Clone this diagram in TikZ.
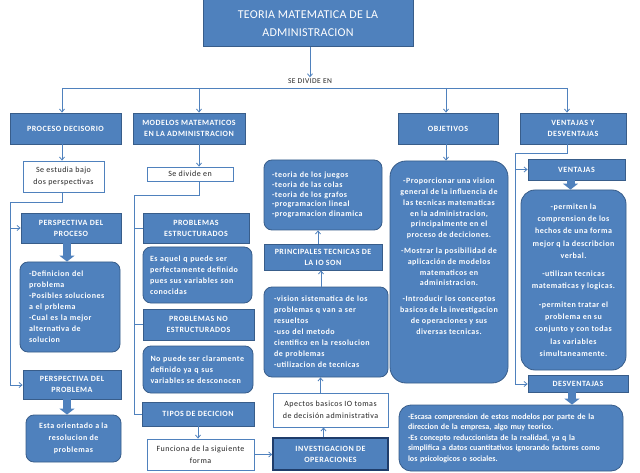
\documentclass[tikz,border=0pt]{standalone}
\usepackage{fontspec}
\setmainfont{Carlito}[LetterSpace=6]
\newfontfamily\tightf{Carlito}[LetterSpace=2]
\newfontfamily\plainf{Carlito}
\usetikzlibrary{arrows.meta}
\definecolor{bfill}{HTML}{4F81BD}
\definecolor{bborder}{HTML}{385D8A}
\definecolor{bdark}{HTML}{1F3D6B}
\definecolor{ink}{HTML}{262626}
\newcommand\hdrf{\fontsize{8}{11}\selectfont\bfseries}
\newcommand\wf{\fontsize{8}{11.5}\selectfont}
\newcommand\bdyf{\fontsize{8}{11}\selectfont\bfseries}
\tikzset{
  hbox/.style={draw=bborder, line width=0.8pt, fill=bfill, text=white, inner sep=1pt, align=center, font=\hdrf},
  rbox/.style={draw=bborder, line width=0.8pt, fill=bfill, text=white, inner sep=1pt, rounded corners=8pt, font=\bdyf},
  wbox/.style={draw=bfill, line width=0.8pt, fill=white, text=ink, inner sep=1pt, align=center, font=\wf},
  conn/.style={draw=bfill, line width=0.8pt},
  arr/.style={conn, -{Straight Barb[length=3pt,width=5pt]}},
  blk/.style={draw=bfill, line width=8pt, -{Triangle[length=6pt,width=15pt]}},
}
\begin{document}
\begin{tikzpicture}[x=1pt,y=-1pt]
\useasboundingbox[fill=white] (0,0) rectangle (640,473);

% title
\node[hbox, line width=1pt, minimum width=210, minimum height=47, font=\tightf\fontsize{12}{17.7}\selectfont] (title) at (308,23.5) {TEORIA MATEMATICA DE LA\\ADMINISTRACION};
\node[inner sep=1pt, text=ink, font=\fontsize{7.5}{8}\selectfont] (sde) at (310,81) {SE DIVIDE EN};

% first row
\node[hbox, minimum width=111, minimum height=31] (proc) at (65.5,128.5) {PROCESO DECISORIO};
\node[hbox, minimum width=112, minimum height=31] (mod) at (189,128.5) {MODELOS MATEMATICOS\\EN LA ADMINISTRACION};
\node[hbox, minimum width=100, minimum height=31] (obj) at (448,128.5) {OBJETIVOS};
\node[hbox, minimum width=106, minimum height=31] (vent) at (573,128.5) {VENTAJAS Y\\DESVENTAJAS};

% bar
\coordinate (b1) at (62,88);
\coordinate (b2) at (199,88);
\coordinate (b3) at (446,88);
\coordinate (b4) at (567,88);
\draw[arr] (title.south -| sde) -- (sde.north);
\draw[conn] (b1) -- (b4);
\draw[arr] (b1) -- (b1 |- proc.north);
\draw[arr] (b2) -- (b2 |- mod.north);
\draw[arr] (b3) -- (b3 |- obj.north);
\draw[arr] (b4) -- (b4 |- vent.north);

% left column
\node[wbox, minimum width=81, minimum height=31] (estudia) at (63.5,176.5) {Se estudia bajo\\dos perspectivas};
\node[hbox, minimum width=100, minimum height=30] (pproc) at (71,228) {PERSPECTIVA DEL\\PROCESO};
\node[rbox, minimum width=100, minimum height=90, text width=82, align=left] (def) at (70,307) {-Definicion del\\problema\\-Posibles soluciones\\a el prblema\\-Cual es la mejor\\alternativa de\\solucion};
\node[hbox, minimum width=98, minimum height=29] (pprob) at (72,384.5) {PERSPECTIVA DEL\\PROBLEMA};
\node[rbox, minimum width=95, minimum height=47, align=center, font=\fontsize{8}{12}\selectfont\bfseries] (orient) at (73.5,438.5) {Esta orientado a la\\resolucion de\\problemas};
\coordinate (lt) at (10,202);
\coordinate (lb) at (10,385);
\draw[arr] (b1 |- proc.south) -- (b1 |- estudia.north);
\draw[conn] (b1 |- estudia.south) |- (lt) -- (lb);
\draw[arr] (lt |- pproc) -- (pproc.west);
\draw[arr] (lb) -- (lb -| pprob.west);
\draw[blk] ([xshift=-4pt]pproc.south) -- ([xshift=-4pt]pproc.south |- def.north);
\draw[blk] ([xshift=-5pt]pprob.south) -- ([xshift=-5pt]pprob.south |- orient.north);

% middle column
\node[wbox, minimum width=86, minimum height=14] (divide) at (190,174) {Se divide en};
\node[hbox, minimum width=106, minimum height=30] (pe) at (196,228) {PROBLEMAS\\ESTRUCTURADOS};
\node[rbox, minimum width=109, minimum height=56, text width=95, align=left] (esaquel) at (197.5,275) {Es aquel q puede ser\\perfectamente definido\\pues sus variables son\\conocidas};
\node[hbox, minimum width=111, minimum height=31] (pne) at (198.5,324.5) {PROBLEMAS NO\\ESTRUCTURADOS};
\node[rbox, minimum width=110, minimum height=47, text width=95, align=left] (nopuede) at (198,369.5) {No puede ser claramente\\definido ya q sus\\variables se desconocen};
\node[hbox, minimum width=112, minimum height=24] (tipos) at (198,414) {TIPOS DE DECICION};
\node[wbox, minimum width=107, minimum height=31] (funciona) at (200.5,454.5) {Funciona de la siguiente\\forma};
\coordinate (mt) at (134,195);
\coordinate (mb) at (134,414);
\draw[arr] (b2 |- mod.south) -- (b2 |- divide.north);
\draw[conn] (b2 |- divide.south) |- (mt) -- (mb) -- (tipos.west);
\draw[conn] (mt |- pe) -- (pe.west);
\draw[conn] (mt |- pne) -- (pne.west);
\draw[arr] (tipos.south) -- (tipos.south |- funciona.north);

% third column
\node[hbox, line width=1.6pt, draw=bdark, minimum width=115, minimum height=32] (inv) at (330.5,454) {INVESTIGACION DE\\OPERACIONES};
\node[wbox, minimum width=115, minimum height=34] (apectos) at (330.5,410) {Apectos basicos IO tomas\\de decisión administrativa};
\node[rbox, minimum width=124, minimum height=90, text width=104, align=left] (vision) at (326,332) {-vision sistematica de los\\problemas q van a ser\\resueltos\\-uso del metodo\\cientifico en la resolucion\\de problemas\\-utilizacion de tecnicas};
\node[hbox, minimum width=118, minimum height=26] (princ) at (323,257) {PRINCIPALES TECNICAS DE\\LA IO SON};
\node[rbox, minimum width=118, minimum height=70, text width=102, align=left, font=\fontsize{8}{9.6}\selectfont\bfseries] (teoria) at (323,195) {-teoria de los juegos\\-teoria de las colas\\-teoria de los grafos\\-programacion lineal\\-programacion dinamica};
\draw[arr] (funciona.east) -- (funciona.east -| inv.west);
\draw[arr] ([xshift=-7pt]inv.north) -- ([xshift=-7pt]inv.north |- apectos.south);
\draw[arr] ([xshift=-10pt]apectos.north) -- ([xshift=-10pt]apectos.north |- vision.south);
\draw[arr] ([xshift=-5pt]vision.north) -- ([xshift=-5pt]vision.north |- princ.south);
\draw[arr] ([xshift=-5pt]princ.north) -- ([xshift=-5pt]princ.north |- teoria.south);

% objetivos
\node[rbox, rounded corners=16pt, minimum width=118, minimum height=222, align=center, font=\fontsize{8}{10.8}\selectfont\bfseries] (objtxt) at (449,272) {-Proporcionar una vision\\general de la influencia de\\las tecnicas matematicas\\en la administracion,\\principalmente en el\\proceso de deciciones.\\[5pt]-Mostrar la posibilidad de\\aplicación de modelos\\matematicos en\\administracion.\\[5pt]-Introducir los conceptos\\basicos de la investigacion\\de operaciones y sus\\diversas tecnicas.\\[21pt]\mbox{}};
\draw[arr] (b3 |- obj.south) -- (b3 |- objtxt.north);

% ventajas
\node[hbox, minimum width=97, minimum height=21] (ventajas) at (576.5,169.5) {VENTAJAS};
\node[rbox, rounded corners=14pt, minimum width=105, minimum height=180, align=center, font=\fontsize{8}{12.3}\selectfont\bfseries] (venttxt) at (573.5,280) {-permiten la\\comprension de los\\hechos de una forma\\mejor q la describcion\\verbal.\\[6pt]-utilizan tecnicas\\matematicas y logicas.\\[6pt]-permiten tratar el\\problema en su\\conjunto y con todas\\las variables\\simultaneamente.};
\node[hbox, minimum width=100, minimum height=17] (desv) at (578,383.5) {DESVENTAJAS};
\node[rbox, rounded corners=12pt, minimum width=224, minimum height=66, text width=206, align=left, font=\plainf\fontsize{8}{10.5}\selectfont\bfseries] (desvtxt) at (511,438) {-Escasa comprension de estos modelos por parte de la\\direccion de la empresa, algo muy teorico.\\-Es concepto reduccionista de la realidad, ya q la\\simplifica a datos cuantitativos ignorando factores como\\los psicologicos o sociales.};
\coordinate (rt) at (515,153);
\coordinate (rb) at (515,384);
\draw[conn] (b4 |- vent.south) |- (rt) -- (rb);
\draw[arr] (rt |- ventajas) -- (ventajas.west);
\draw[arr] (rb) -- (rb -| desv.west);
\draw[blk] ([xshift=-6pt]ventajas.south) -- ([xshift=-6pt]ventajas.south |- venttxt.north);
\draw[blk] ([xshift=-6pt]desv.south) -- ([xshift=-6pt]desv.south |- desvtxt.north);
\end{tikzpicture}
\end{document}
